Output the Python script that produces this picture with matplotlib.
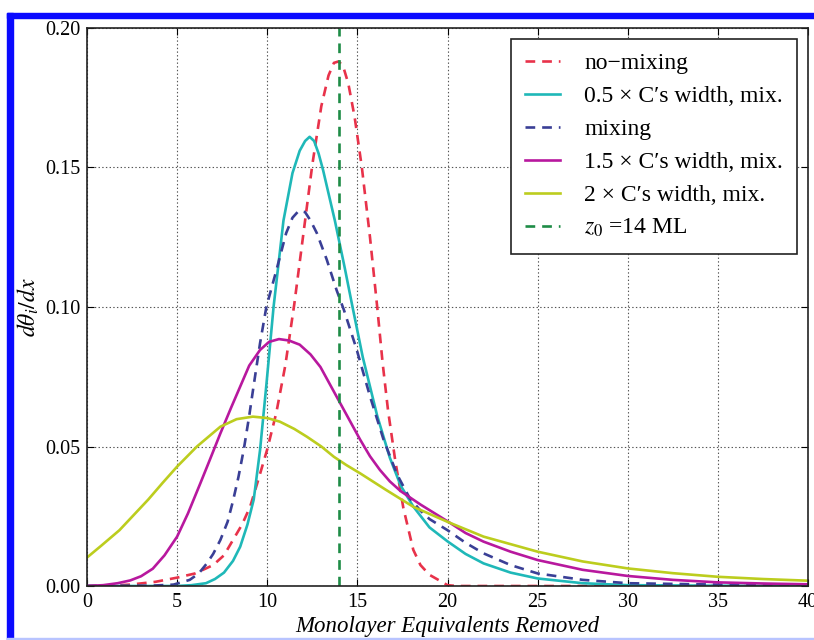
import numpy as np
import matplotlib
matplotlib.use("Agg")
import matplotlib.pyplot as plt
from matplotlib.patches import Rectangle

# values
x_red = [0, 1.5, 2.4, 3.8, 5.0, 6.0, 7.0, 7.6, 8.1, 8.6, 9.05, 9.5, 10.0, 10.5, 11.0, 11.5,
         12.0, 12.5, 13.0, 13.4, 13.7, 13.95, 14.2, 14.5, 14.85, 15.25, 15.7, 16.1, 16.4,
         16.7, 17.1, 17.55, 18.1, 18.5, 19.0, 19.6, 20.0, 20.5, 40]
y_red = [0, 0.0002, 0.0005, 0.0015, 0.003, 0.0045, 0.0075, 0.011, 0.0165, 0.022, 0.0284,
         0.038, 0.049, 0.062, 0.079, 0.101, 0.126, 0.151, 0.172, 0.183, 0.1875, 0.188,
         0.1865, 0.180, 0.168, 0.150, 0.125, 0.100, 0.080, 0.063, 0.045, 0.028, 0.013,
         0.0075, 0.004, 0.0018, 0.0003, 0.0, 0.0]

x_cyan = [0, 5.0, 5.8, 6.6, 7.1, 7.6, 8.1, 8.5, 8.9, 9.25, 9.6, 9.95, 10.35, 10.9, 11.4,
          11.8, 12.1, 12.35, 12.6, 12.85, 13.1, 13.75, 14.3, 14.7, 15.3, 16.1, 16.8, 17.4,
          18.1, 19.0, 20.0, 21.0, 22.0, 23.5, 25.0, 27.5, 30.0, 35.0, 40.0]
y_cyan = [0, 0, 0.0003, 0.001, 0.0025, 0.0048, 0.009, 0.0141, 0.022, 0.031, 0.0487, 0.072,
          0.100, 0.131, 0.148, 0.156, 0.1595, 0.161, 0.1595, 0.155, 0.149, 0.131, 0.114,
          0.101, 0.082, 0.061, 0.046, 0.036, 0.0285, 0.021, 0.016, 0.0115, 0.0081, 0.0048,
          0.0027, 0.001, 0.0003, 0.0001, 0.0]

x_blue = [0, 3.5, 4.8, 5.7, 6.2, 6.65, 7.0, 7.4, 7.8, 8.1, 8.4, 8.7, 9.0, 9.25, 9.6, 9.95,
          10.5, 11.05, 11.4, 11.75, 12.1, 12.4, 12.75, 13.3, 13.85, 14.25, 14.95, 15.7,
          16.45, 17.2, 17.9, 18.5, 19.0, 20.0, 21.0, 22.0, 23.5, 25.0, 27.5, 30.0, 35.0, 40.0]
y_blue = [0, 0.0001, 0.0005, 0.0022, 0.0045, 0.0081, 0.0115, 0.0165, 0.023, 0.0305, 0.039,
          0.049, 0.061, 0.072, 0.087, 0.100, 0.113, 0.1265, 0.132, 0.1345, 0.134, 0.131,
          0.1265, 0.117, 0.106, 0.099, 0.085, 0.068, 0.0525, 0.040, 0.0315, 0.027, 0.024,
          0.020, 0.0155, 0.0117, 0.0075, 0.0045, 0.0022, 0.001, 0.0005, 0.0002]

x_mag = [0, 0.9, 1.7, 2.4, 3.0, 3.65, 4.3, 5.0, 5.6, 6.3, 6.8, 7.4, 8.0, 8.5, 9.0, 9.6, 10.1,
         10.65, 11.2, 11.8, 12.4, 12.95, 13.5, 14.05, 14.6, 15.15, 15.7, 16.25, 16.8, 17.4,
         18.5, 20.0, 21.0, 22.0, 23.5, 25.0, 27.5, 30.0, 32.5, 35.0, 37.5, 40.0]
y_mag = [0, 0.0003, 0.001, 0.002, 0.0035, 0.0062, 0.011, 0.0177, 0.026, 0.037, 0.045, 0.0547,
         0.064, 0.0715, 0.079, 0.0846, 0.0875, 0.0885, 0.088, 0.0865, 0.083, 0.0785, 0.072,
         0.0655, 0.059, 0.0525, 0.0465, 0.0416, 0.0375, 0.034, 0.0292, 0.0232, 0.019,
         0.0159, 0.0123, 0.0093, 0.0058, 0.0036, 0.0022, 0.0013, 0.0009, 0.0006]

x_yel = [0, 0.8, 1.8, 2.6, 3.4, 4.2, 5.0, 6.1, 7.4, 8.3, 9.2, 10.0, 10.7, 11.5, 12.2, 13.0,
         13.7, 14.4, 15.15, 16.6, 18.1, 20.0, 22.0, 25.0, 27.5, 30.0, 32.5, 35.0, 37.5, 40.0]
y_yel = [0.0102, 0.0145, 0.0200, 0.0255, 0.031, 0.037, 0.0428, 0.050, 0.0571, 0.0598, 0.0607,
         0.0602, 0.0589, 0.0563, 0.0535, 0.050, 0.0463, 0.0433, 0.0404, 0.0344, 0.0284,
         0.0230, 0.0177, 0.0123, 0.0088, 0.0063, 0.0046, 0.0033, 0.0025, 0.0019]

z0 = 14

labels = ["no\u2212mixing", "0.5 \u00d7 C\u2032s width, mix.", "mixing",
          "1.5 \u00d7 C\u2032s width, mix.", "2 \u00d7 C\u2032s width, mix.",
          "$z_0$ =14 ML"]

plt.rcParams['font.family'] = ['Liberation Serif', 'DejaVu Serif']
plt.rcParams['mathtext.fontset'] = 'stix'
plt.rcParams['lines.scale_dashes'] = False

fig = plt.figure(figsize=(8.14, 6.4), dpi=100)
ax = fig.add_axes([87/814, 54/640, 721/814, 558/640])

dash = (7, 5)
ax.plot(x_red, y_red, color='#e8324a', lw=1.9, ls='--', dashes=dash, label=labels[0])
ax.plot(x_cyan, y_cyan, color='#1fb8b8', lw=1.9, label=labels[1])
ax.plot(x_blue, y_blue, color='#3a3f96', lw=1.9, ls='--', dashes=dash, label=labels[2])
ax.plot(x_mag, y_mag, color='#b8189e', lw=1.9, label=labels[3])
ax.plot(x_yel, y_yel, color='#bccd1e', lw=1.9, label=labels[4])
ax.axvline(z0, color='#1e8c46', lw=1.9, ls='--', dashes=dash, label=labels[5])

ax.set_xlim(0, 40)
ax.set_ylim(0, 0.2)
ax.set_xticks(np.arange(0, 41, 5))
ax.set_yticks(np.arange(0, 0.201, 0.05))
ax.set_yticklabels(["0.00", "0.05", "0.10", "0.15", "0.20"])
ax.grid(True, ls=':', color='#555555', lw=0.8)
ax.tick_params(direction='in', top=True, right=True, length=5, labelsize=14.5, pad=5)
for s in ax.spines.values():
    s.set_linewidth(1.2)
    s.set_color('#222222')

ax.set_xlabel("Monolayer Equivalents Removed", fontsize=16.5, style='italic', labelpad=3)
ax.set_ylabel(r"$d\theta_i/dx$", fontsize=17, labelpad=3)

leg = ax.legend(loc='upper right', fontsize=17, fancybox=False, framealpha=1,
                edgecolor='#222222', borderaxespad=0.45, handlelength=1.45,
                labelspacing=0.48, handletextpad=1.05, borderpad=0.6)
leg.get_frame().set_linewidth(1.2)

# blue frame of the screenshot
fig.patches.append(Rectangle((7/814, 0), 6/814, (640-13)/640, transform=fig.transFigure,
                             color='#0a0aff', zorder=-1))
fig.patches.append(Rectangle((7/814, (640-18)/640), 1, 5/640, transform=fig.transFigure,
                             color='#0a0aff', zorder=-1))
fig.patches.append(Rectangle((7/814, 0), 1, 2/640, transform=fig.transFigure,
                             color='#b8c4ff', zorder=-1))

fig.savefig("out.png", dpi=100)
